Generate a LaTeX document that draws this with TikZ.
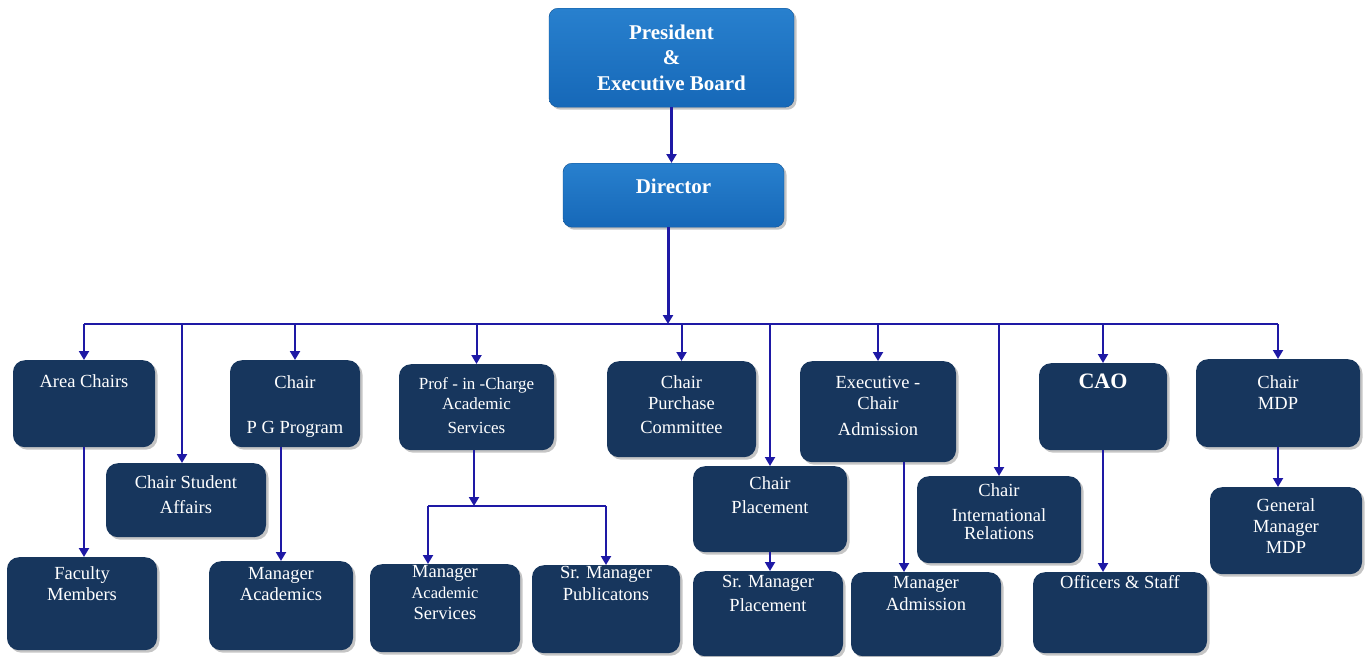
\documentclass[tikz,border=0pt]{standalone}
\usepackage{fontspec}
\setmainfont{Liberation Serif}
\usepackage{tikz}
\usetikzlibrary{arrows.meta}
\usetikzlibrary{shadows}
\definecolor{navy}{RGB}{23,54,93}
\definecolor{boardtop}{RGB}{40,128,206}
\definecolor{boardbot}{RGB}{22,104,184}
\definecolor{link}{RGB}{30,25,165}
\tikzstyle{unit}=[anchor=north,align=center,inner xsep=2pt,inner ysep=0pt,text=white,
  drop shadow={shadow xshift=2.5pt,shadow yshift=-2.5pt,fill=black!45}]
\tikzstyle{dept}=[unit,rounded corners=12pt,fill=navy,font=\fontsize{18.5}{21}\selectfont]
\tikzstyle{head}=[unit,rounded corners=9pt,top color=boardtop,bottom color=boardbot,draw=boardbot!80!black,
  font=\bfseries\fontsize{21}{25.5}\selectfont]
\tikzstyle{link}=[draw=link,line width=2pt,-{Triangle[length=9pt,width=10pt]}]
\tikzstyle{bus}=[draw=link,line width=2pt]
% width, top to last baseline, last baseline to bottom
\tikzset{dims/.style n args={3}{minimum width=#1pt,text height=#2pt,text depth=#3pt}}
\newcommand\smallline[1]{{\fontsize{16.5}{18}\selectfont #1}}

\begin{document}
\begin{tikzpicture}[x=1pt,y=-1pt]
  \useasboundingbox (0,0) rectangle (1367,656);
  % top of the chart
  \node[head,dims={245}{82}{17}] (pres) at (671.5,8) {President\\\&\\Executive Board};
  \node[head,dims={221}{30}{34}] (dir) at (673.5,163) {Director};
  % first row
  \node[dept,dims={142}{27}{60}] (area) at (84,360) {Area Chairs};
  \node[dept,dims={160}{50}{24}] (csa) at (186,463) {Chair Student\\[4pt]Affairs};
  \node[dept,dims={130}{73}{14}] (cpg) at (295,360) {Chair\\[24pt]P G Program};
  \node[dept,dims={155}{69}{17},font=\fontsize{17}{20}\selectfont] (prof) at (476.5,364) {Prof - in -Charge\\Academic\\[4pt]Services};
  \node[dept,dims={149}{72}{24}] (cpc) at (681.5,361) {Chair\\Purchase\\[3pt]Committee};
  \node[dept,dims={154}{47}{39}] (cpl) at (770,466) {Chair\\[3pt]Placement};
  \node[dept,dims={156}{74}{27}] (exa) at (878,361) {Executive -\\Chair\\[5pt]Admission};
  \node[dept,dims={164}{63}{24}] (cir) at (999,476) {Chair\\[4pt]International\\[-3pt]Relations};
  \node[dept,dims={128}{25}{62},font=\bfseries\fontsize{22}{26}\selectfont] (cao) at (1103,363) {CAO};
  \node[dept,dims={164}{50}{38}] (mdp) at (1278,359) {Chair\\MDP};
  % second row
  \node[dept,dims={150}{43}{50}] (fac) at (82,557) {Faculty\\Members};
  \node[dept,dims={144}{39}{50}] (mac) at (281,561) {Manager\\Academics};
  \node[dept,dims={150}{55}{33}] (mas) at (445,564) {Manager\\\smallline{Academic}\\Services};
  \node[dept,dims={148}{35}{53}] (smp) at (606,565) {Sr. Manager\\[1pt]Publicatons};
  \node[dept,dims={150}{40}{45}] (smpl) at (768,571) {Sr. Manager\\[3pt]Placement};
  \node[dept,dims={150}{38}{46}] (mad) at (926,572) {Manager\\[1pt]Admission};
  \node[dept,dims={174}{16}{65}] (ofs) at (1120,572) {Officers \& Staff};
  \node[dept,dims={152}{66}{21}] (gmd) at (1286,487) {General\\Manager\\MDP};
  % connectors
  \coordinate (top) at (668,324);
  \coordinate (split) at (474,506);
  \draw[link,line width=3pt] (pres.south) -- (pres.south |- dir.north);
  \draw[link,line width=3pt] (dir.south -| top) -- (top);
  \draw[bus] (top -| area.north) -- (top -| mdp.north);
  \foreach \n in {area,cpg,prof,cpc,exa,cao,mdp}
    \draw[link] (top -| \n.north) -- (\n.north);
  \draw[link] (182,324) -- (182,463);
  \draw[link] (top -| cpl.north) -- (cpl.north);
  \draw[link] (top -| cir.north) -- (cir.north);
  \draw[link] (area.south) -- (area.south |- fac.north);
  \draw[link] (mac.north |- cpg.south) -- (mac.north);
  \draw[link] (split |- prof.south) -- (split);
  \draw[bus] (428,506) -- (split -| smp.north);
  \draw[link] (428,506) -- (428,564);
  \draw[link] (split -| smp.north) -- (smp.north);
  \draw[link] (cpl.south) -- (cpl.south |- smpl.north);
  \draw[link] ([xshift=26pt]exa.south) -- ([xshift=26pt]exa.south |- mad.north);
  \draw[link] (cao.south) -- (cao.south |- ofs.north);
  \draw[link] (mdp.south) -- (mdp.south |- gmd.north);
\end{tikzpicture}
\end{document}
